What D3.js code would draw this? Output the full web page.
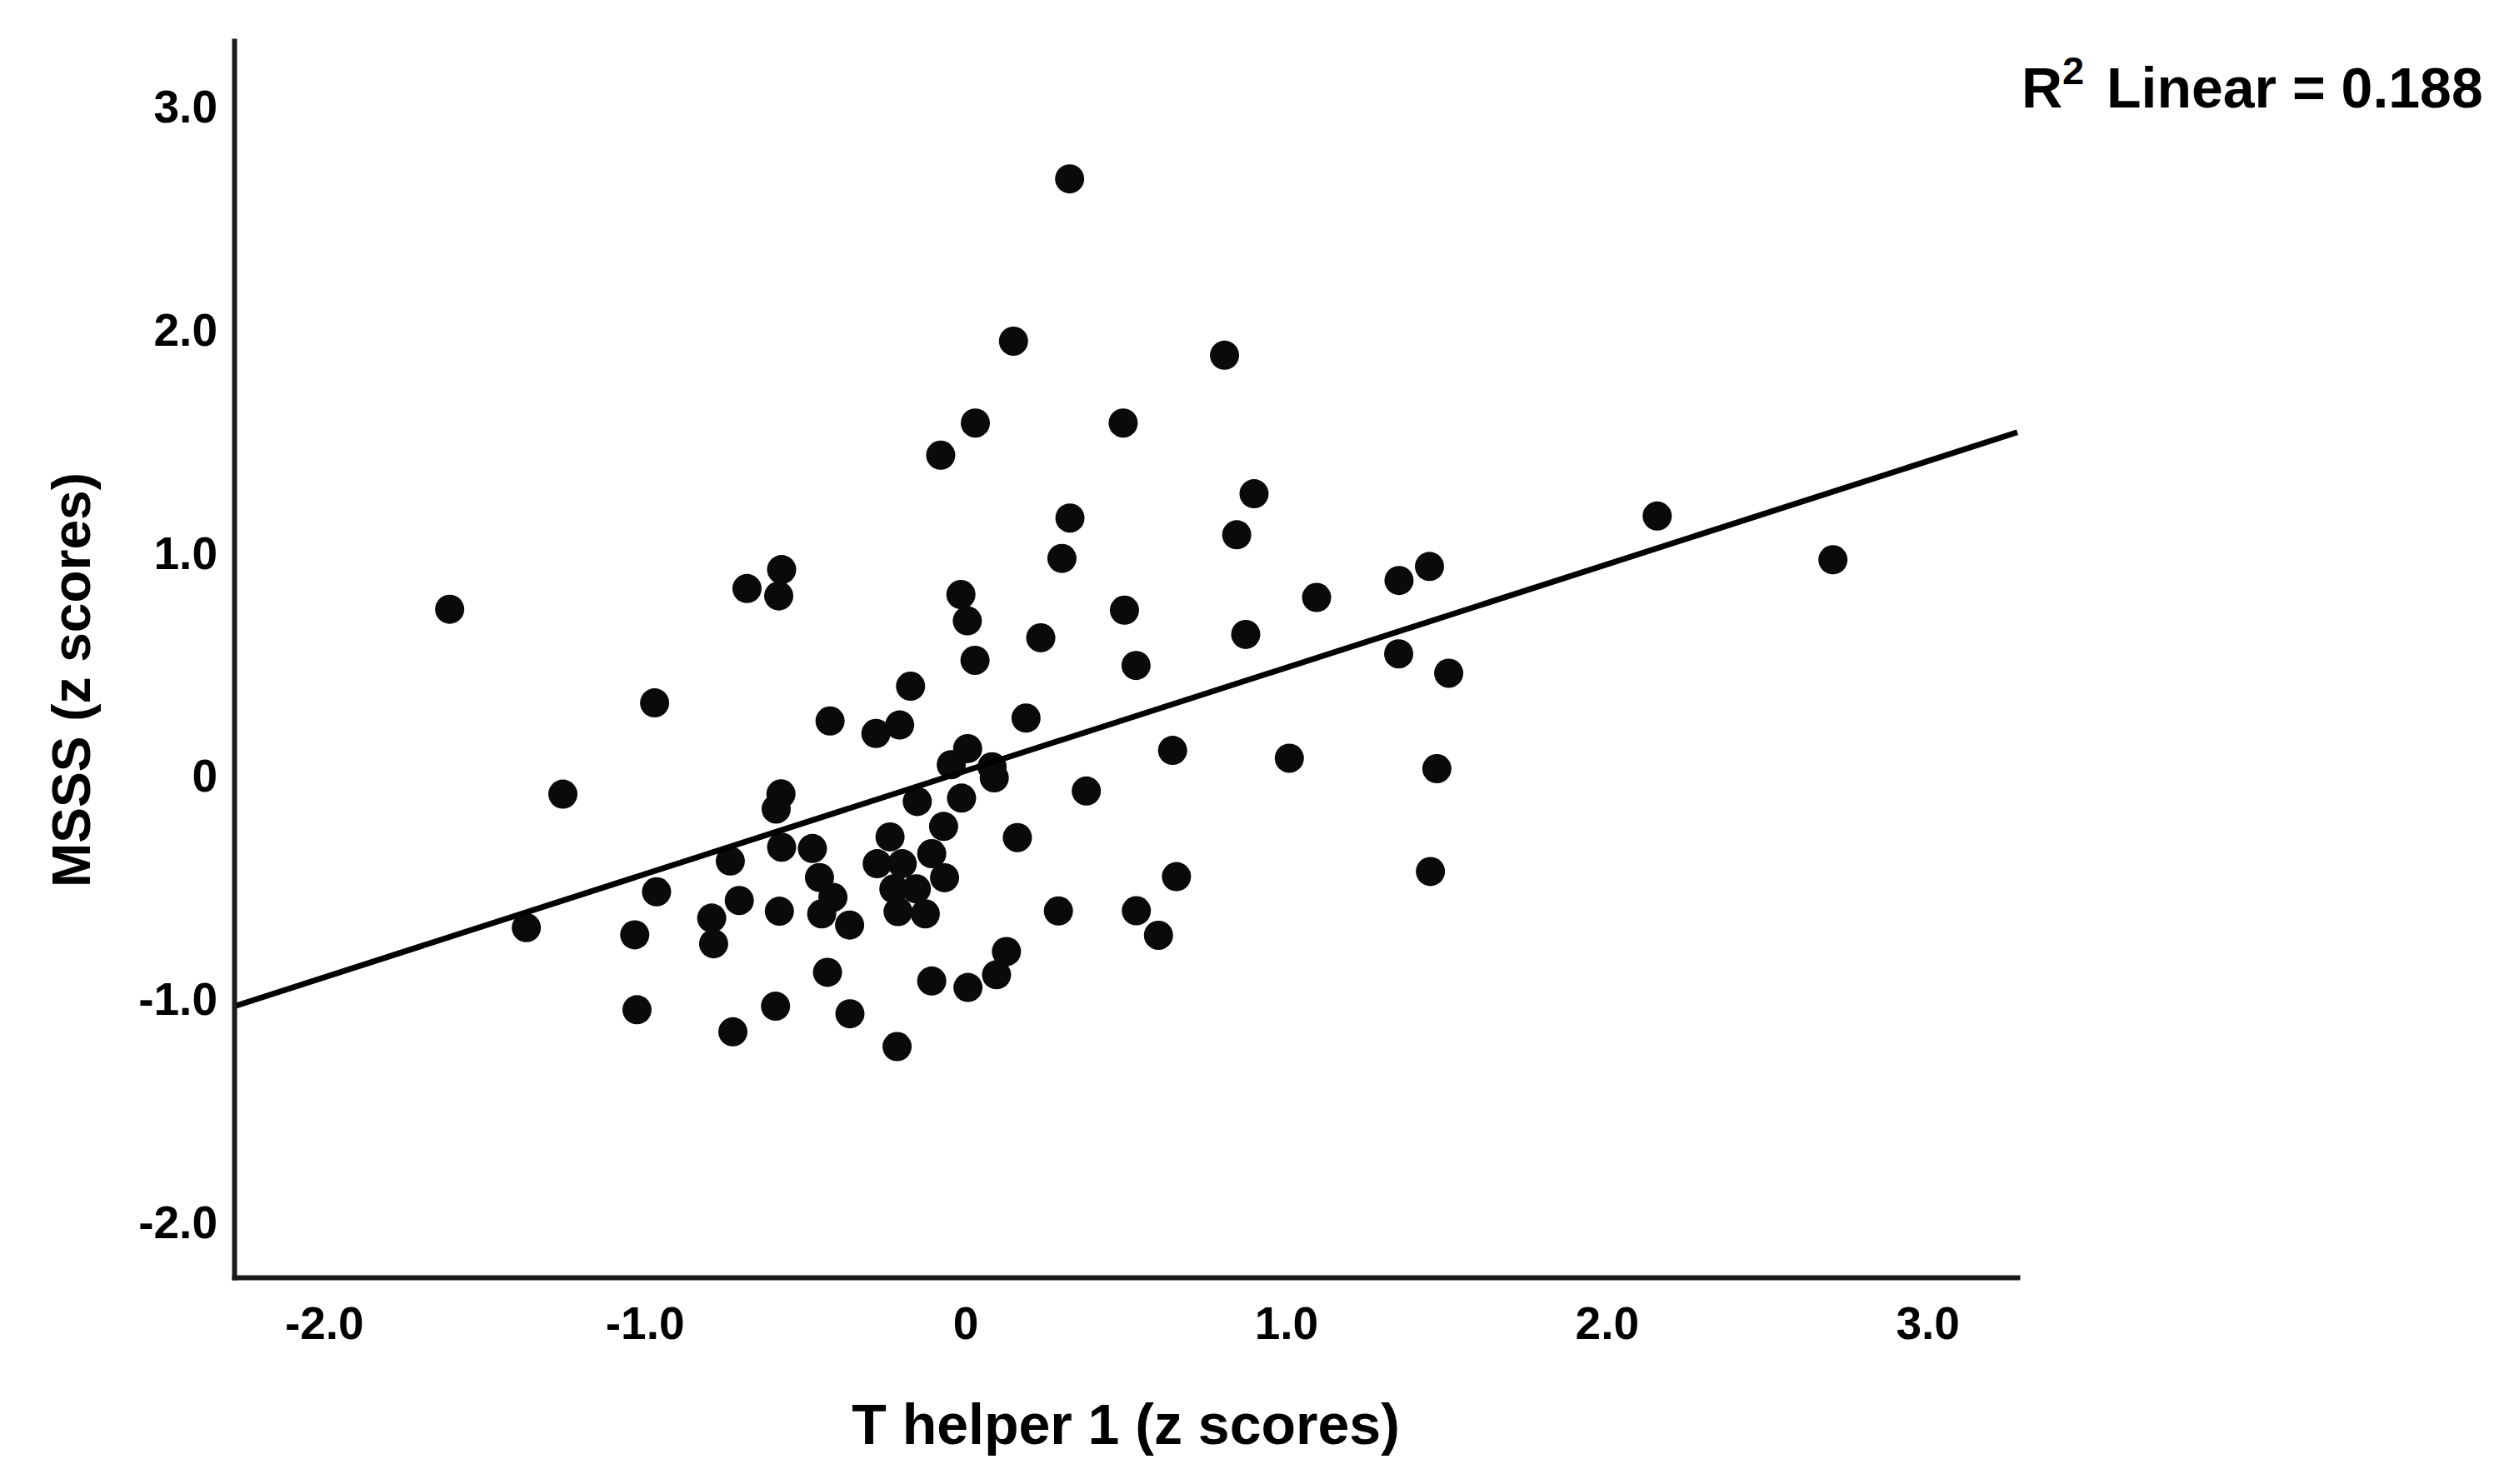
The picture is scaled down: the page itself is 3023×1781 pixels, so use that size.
<!DOCTYPE html>
<html>
<head>
<meta charset="utf-8">
<script src="https://cdn.jsdelivr.net/npm/d3@7"></script>
<style>
  body { margin: 0; background: #ffffff; }
  text { font-family: "Liberation Sans", Arial, sans-serif; font-weight: bold; fill: #000; }
</style>
</head>
<body>
<div id="vis"></div>
<script>
// Data (z scores)
const TH1_Z = [
  0.325, 0.150, 0.808, 0.031, 0.492, -0.077, 0.900, 0.326, 2.157, 0.846,
  0.301, 2.705, -0.573, -0.681, -0.582, -1.608, -0.014, 1.352, 1.447, 1.095,
  0.496, 0.006, 0.874, 0.235, 0.030, 0.532, 1.351, 1.507, -0.171, -0.969,
  0.189, -0.422, -0.279, -0.205, 0.007, -0.044, 0.083, 0.090, 0.646, 1.010,
  1.470, 0.377, -1.255, -0.575, -0.012, -0.150, -0.590, -0.068, -0.573, 0.162,
  -0.235, -0.477, -0.105, -0.275, -0.197, -0.733, -0.065, -0.223, -0.153, 0.658,
  1.450, -0.455, -0.963, -0.413, -0.705, -0.448, -0.210, -0.580, -0.125, 0.290,
  0.533, -0.361, -0.791, -1.369, -1.031, 0.602, -0.785, 0.128, -0.430, 0.097,
  -0.105, 0.008, -1.024, -0.592, -0.360, -0.725, -0.213
];
const MSSS_Z = [
  2.681, 1.953, 1.890, 1.586, 1.586, 1.442, 1.269, 1.160, 1.169, 1.085,
  0.979, 0.973, 0.929, 0.844, 0.811, 0.751, 0.817, 0.880, 0.943, 0.804,
  0.747, 0.699, 0.638, 0.623, 0.522, 0.499, 0.551, 0.464, 0.406, 0.331,
  0.263, 0.250, 0.194, 0.232, 0.126, 0.054, 0.045, -0.005, 0.118, 0.083,
  0.036, -0.064, -0.078, -0.077, -0.096, -0.111, -0.145, -0.223, -0.316, -0.273,
  -0.270, -0.322, -0.345, -0.390, -0.390, -0.378, -0.453, -0.503, -0.503, -0.448,
  -0.425, -0.452, -0.516, -0.541, -0.555, -0.615, -0.605, -0.603, -0.615, -0.602,
  -0.601, -0.665, -0.634, -0.677, -0.709, -0.711, -0.749, -0.784, -0.877, -0.888,
  -0.916, -0.945, -1.045, -1.029, -1.063, -1.144, -1.210
];

// Axis ticks and labels
const X_TICKS = [-2, -1, 0, 1, 2, 3];
const X_TICK_LABELS = ["-2.0", "-1.0", "0", "1.0", "2.0", "3.0"];
const Y_TICKS = [-2, -1, 0, 1, 2, 3];
const Y_TICK_LABELS = ["-2.0", "-1.0", "0", "1.0", "2.0", "3.0"];

// Axis ranges
const X_DOMAIN = [-2.28, 3.28];
const Y_DOMAIN = [-2.245, 3.30];

// Fit line
const FIT_INTERCEPT = 0.026;
const FIT_SLOPE = 0.463;
const R2_VALUE = "0.188";

// Frame and margins
const FRAME_WIDTH = 3023;
const FRAME_HEIGHT = 1781;
const MARGINS = {left: 281, right: 602, top: 49, bottom: 248};

const FRAME = d3.select("#vis")
                .append("svg")
                  .attr("width", FRAME_WIDTH)
                  .attr("height", FRAME_HEIGHT);

FRAME.append("rect")
     .attr("width", FRAME_WIDTH)
     .attr("height", FRAME_HEIGHT)
     .attr("fill", "#ffffff");

// Scales
const X_SCALE = d3.scaleLinear()
                  .domain(X_DOMAIN)
                  .range([MARGINS.left, FRAME_WIDTH - MARGINS.right]);

const Y_SCALE = d3.scaleLinear()
                  .domain(Y_DOMAIN)
                  .range([FRAME_HEIGHT - MARGINS.bottom, MARGINS.top]);

const points = TH1_Z.map((x, i) => ({x: x, y: MSSS_Z[i]}));

// Points
FRAME.selectAll(".point")
     .data(points)
     .enter()
     .append("circle")
       .attr("class", "point")
       .attr("cx", (d) => X_SCALE(d.x))
       .attr("cy", (d) => Y_SCALE(d.y))
       .attr("r", 17.5)
       .attr("fill", "#0a0a0a");

// Fit line across the whole x range
const fitLine = d3.line()
                  .x((d) => X_SCALE(d))
                  .y((d) => Y_SCALE(FIT_INTERCEPT + FIT_SLOPE * d));

FRAME.append("path")
     .datum(X_DOMAIN)
     .attr("d", fitLine)
     .attr("fill", "none")
     .attr("stroke", "#000")
     .attr("stroke-width", 7);

// x axis
const xAxis = FRAME.append("g")
     .attr("transform", "translate(0," + (FRAME_HEIGHT - MARGINS.bottom) + ")")
     .call(d3.axisBottom(X_SCALE)
             .tickValues(X_TICKS)
             .tickSize(0)
             .tickPadding(35)
             .tickFormat((d, i) => X_TICK_LABELS[i]));

// y axis
const yAxis = FRAME.append("g")
     .attr("transform", "translate(" + MARGINS.left + ",0)")
     .call(d3.axisLeft(Y_SCALE)
             .tickValues(Y_TICKS)
             .tickSize(0)
             .tickPadding(20)
             .tickFormat((d, i) => Y_TICK_LABELS[i]));

[xAxis, yAxis].forEach((g) => {
  g.select(".domain")
   .attr("stroke", "#1a1a1a")
   .attr("stroke-width", 6)
   .attr("stroke-linecap", "square");
  g.selectAll("text")
   .attr("font-size", "55px")
   .attr("font-family", "'Liberation Sans', Arial, sans-serif")
   .attr("font-weight", "bold")
   .attr("fill", "#000");
});

// Axis titles
FRAME.append("text")
     .attr("x", (MARGINS.left + FRAME_WIDTH - MARGINS.right) / 2)
     .attr("y", 1733)
     .attr("text-anchor", "middle")
     .attr("font-size", "68px")
     .text("T helper 1 (z scores)");

FRAME.append("text")
     .attr("transform", "translate(108,816) rotate(-90)")
     .attr("text-anchor", "middle")
     .attr("font-size", "64px")
     .text("MSSS (z scores)");

// R squared note
const note = FRAME.append("text")
     .attr("x", 2426)
     .attr("y", 129)
     .attr("font-size", "68px");
note.append("tspan").text("R");
note.append("tspan")
    .attr("font-size", "47px")
    .attr("dy", -28)
    .text("2");
note.append("tspan")
    .attr("x", 2528)
    .attr("dy", 28)
    .text("Linear = " + R2_VALUE);
</script>
</body>
</html>
